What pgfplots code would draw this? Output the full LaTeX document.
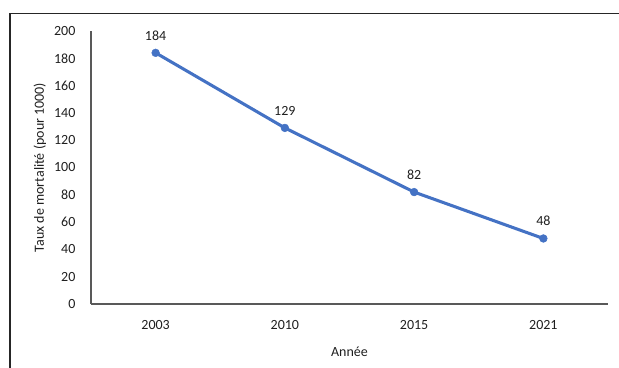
\documentclass[border=0pt]{standalone}
\usepackage{pgfplots}
\pgfplotsset{compat=1.18}
\usepackage{fontspec}
\setmainfont{Carlito}
\definecolor{serieblue}{HTML}{4472C4}
\definecolor{axisgray}{HTML}{595959}
\definecolor{txt}{HTML}{1F1F1F}
\begin{document}
\begin{tikzpicture}
  % canvas and outer chart frame
  \useasboundingbox (0pt,0pt) rectangle (464.25pt,276pt);
  \draw[line width=1.1pt, black!85] (7.5pt,0pt) -- (7.5pt,265.9pt) -- (464.25pt,265.9pt);
  \begin{axis}[
    at={(68.25pt,48pt)}, anchor=south west,
    scale only axis,
    width=387.75pt, height=204.75pt,
    xmin=-0.5, xmax=3.5,
    ymin=0, ymax=200,
    xtick={0,1,2,3},
    xticklabels={2003,2010,2015,2021},
    ytick={0,20,...,200},
    axis x line*=bottom,
    axis y line*=left,
    axis line style={axisgray, line width=0.8pt, -},
    major tick length=0pt,
    tick style={draw=none},
    font=\fontsize{10.5}{12.5}\selectfont,
    /pgf/number format/assume math mode=true,
    yticklabel style={anchor=east, inner sep=0pt, xshift=-11.5pt, text=txt},
    xticklabel style={anchor=north, inner sep=0pt, yshift=-12pt, text=txt},
    xlabel={Année},
    ylabel={Taux de mortalité (pour 1000)},
    xlabel style={at={(axis description cs:0.5,-0.176)}, anchor=center, text=txt},
    ylabel style={at={(axis description cs:-0.099,0.5)}, anchor=center, rotate=0, text=txt},
    clip=false,
    nodes near coords,
    every node near coord/.append style={text=txt, font=\fontsize{10.5}{12.5}\selectfont, yshift=6pt},
  ]
    \addplot[serieblue, line width=2.3pt, mark=*, mark size=2.9pt,
             mark options={solid, fill=serieblue, draw=serieblue, line width=0.4pt}]
      coordinates {(0,184) (1,129) (2,82) (3,48)};
  \end{axis}
\end{tikzpicture}
\end{document}
